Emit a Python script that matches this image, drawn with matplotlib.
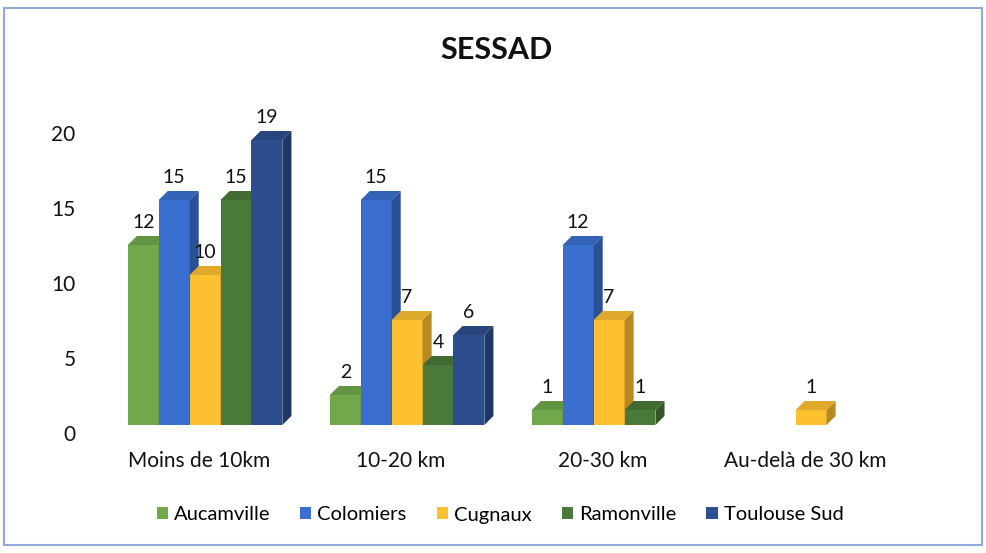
import matplotlib.pyplot as plt
from matplotlib.patches import Polygon, Rectangle
from matplotlib.colors import to_rgb
from matplotlib.transforms import ScaledTranslation

plt.rcParams['font.family'] = ['Lato', 'DejaVu Sans']

# data
categories = ['Moins de 10km', '10-20 km', '20-30 km', 'Au-delà de 30 km']
series = ['Aucamville', 'Colomiers', 'Cugnaux', 'Ramonville', 'Toulouse Sud']
aucamville = [12, 2, 1, 0]
colomiers = [15, 15, 12, 0]
cugnaux = [10, 7, 7, 1]
ramonville = [15, 4, 1, 0]
toulouse_sud = [19, 6, 0, 0]
values = [aucamville, colomiers, cugnaux, ramonville, toulouse_sud]
colors = ['#71A84B', '#3A6FD0', '#FDC031', '#4A7A3A', '#2D4E8E']


def shade(c, f):
    r, g, b = to_rgb(c)
    return (r * f, g * f, b * f)


fig = plt.figure(figsize=(9.86, 5.53), dpi=100)
ax = fig.add_axes([95 / 986, 128 / 553, 810 / 986, 330 / 553])

w = 0.153      # bar width
dx = 0.045     # depth offset (x)
dy = 0.6       # depth offset (y)
z = 2
for j, (name, vals, col) in enumerate(zip(series, values, colors)):
    for i, v in enumerate(vals):
        if v == 0:
            continue
        x0 = i + 0.03 + (j - 2.5) * w
        x1 = x0 + w
        ax.add_patch(Rectangle((x0, 0), w, v, facecolor=col, edgecolor='none', zorder=z))
        ax.add_patch(Polygon([(x1, 0), (x1 + dx, dy), (x1 + dx, v + dy), (x1, v)],
                             closed=True, facecolor=shade(col, 0.72), edgecolor='none', zorder=z))
        ax.add_patch(Polygon([(x0, v), (x0 + dx, v + dy), (x1 + dx, v + dy), (x1, v)],
                             closed=True, facecolor=shade(col, 0.88), edgecolor='none', zorder=z))
        ax.text(x0 + w / 2, v + dy + 0.35, str(v), ha='center', va='bottom',
                fontsize=14, color='#111111', zorder=z)
        z += 1

ax.set_xlim(-0.515, 3.495)
ax.set_ylim(0, 22)
ax.set_yticks([0, 5, 10, 15, 20])
ax.set_xticks(range(len(categories)))
ax.set_xticklabels(categories)
ax.tick_params(axis='both', length=0, labelsize=15, colors='#111111')
ax.tick_params(axis='y', pad=14)
ax.tick_params(axis='x', pad=19)
# 3D floor: value labels sit slightly below the front of the bars
off = ScaledTranslation(0, -8 / 100, fig.dpi_scale_trans)
for lab in ax.get_yticklabels():
    lab.set_transform(lab.get_transform() + off)
for s in ax.spines.values():
    s.set_visible(False)

fig.text(0.503, 1 - 50 / 553, 'SESSAD', ha='center', va='center',
         fontsize=22, fontweight='bold', color='#111111')

handles = [Rectangle((0, 0), 1, 1, facecolor=c, edgecolor='none') for c in colors]
fig.legend(handles, series, loc='center', bbox_to_anchor=(0.507, 1 - 515 / 553),
           ncol=5, frameon=False, fontsize=14.5, handlelength=0.55, handleheight=0.55,
           handletextpad=0.3, columnspacing=1.5)

fig.add_artist(Rectangle((4 / 986, 8 / 553), 978 / 986, 537 / 553, transform=fig.transFigure,
                         fill=False, edgecolor='#8FA9D8', linewidth=1.5))

fig.savefig('out.png', dpi=100)
